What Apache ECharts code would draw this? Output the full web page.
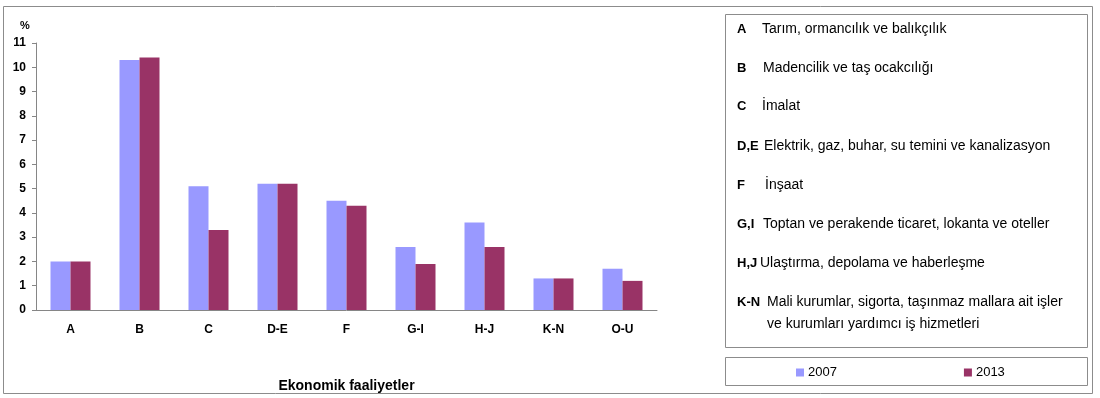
<!DOCTYPE html>
<html>
<head>
<meta charset="utf-8">
<script src="https://cdn.jsdelivr.net/npm/echarts@6/dist/echarts.min.js"></script>
<style>
  html, body { margin: 0; padding: 0; background: #fff; }
  #chart { width: 1100px; height: 398px; }
</style>
</head>
<body>
<div id="chart"></div>
<script>
// kategoriler
var categories = ["A", "B", "C", "D-E", "F", "G-I", "H-J", "K-N", "O-U"];
var seriesNames = ["2007", "2013"];
var values2007 = [2.0, 10.3, 5.1, 5.2, 4.5, 2.6, 3.6, 1.3, 1.7];
var values2013 = [2.0, 10.4, 3.3, 5.2, 4.3, 1.9, 2.6, 1.3, 1.2];
var yTicks = { min: 0, max: 11, interval: 1 };

// sağdaki açıklama kutusu
var noteCodes = ["A", "B", "C", "D,E", "F", "G,I", "H,J", "K-N", ""];
var noteTexts = [
  "Tarım, ormancılık ve balıkçılık",
  "Madencilik ve taş ocakcılığı",
  "İmalat",
  "Elektrik, gaz, buhar, su temini ve kanalizasyon",
  "İnşaat",
  "Toptan ve perakende ticaret, lokanta ve oteller",
  "Ulaştırma, depolama ve haberleşme",
  "Mali kurumlar, sigorta, taşınmaz mallara ait işler",
  "ve kurumları yardımcı iş hizmetleri"
];
var noteY = [29, 68, 106, 146, 185, 224, 263, 302, 324];
var noteDescX = [762, 763, 762, 764, 765, 763, 760, 767, 767];

var FONT = "Liberation Sans, Arial, sans-serif";

var graphics = [
  // dış çerçeve
  { type: "rect", shape: { x: 3.5, y: 6.5, width: 1089, height: 387 },
    style: { fill: "none", stroke: "#8c8c8c", lineWidth: 1 }, silent: true },
  // açıklama kutusu
  { type: "rect", shape: { x: 725.5, y: 14.5, width: 362, height: 333 },
    style: { fill: "none", stroke: "#8c8c8c", lineWidth: 1 }, silent: true },
  // lejant kutusu
  { type: "rect", shape: { x: 725.5, y: 357.5, width: 362, height: 28 },
    style: { fill: "none", stroke: "#8c8c8c", lineWidth: 1 }, silent: true },
  { type: "text", left: 20, top: 20,
    style: { text: "%", font: "bold 11px " + FONT, fill: "#000" } }
];

for (var i = 0; i < noteTexts.length; i++) {
  if (noteCodes[i]) {
    graphics.push({ type: "text", x: 737, y: noteY[i],
      style: { text: noteCodes[i], font: "bold 13px " + FONT, fill: "#000", verticalAlign: "middle" } });
  }
  graphics.push({ type: "text", x: noteDescX[i], y: noteY[i],
    style: { text: noteTexts[i], font: "14px " + FONT, fill: "#000", verticalAlign: "middle" } });
}

var chart = echarts.init(document.getElementById("chart"));

var option = {
  backgroundColor: "#fff",
  animation: false,
  color: ["#9999ff", "#993366"],
  textStyle: { fontFamily: FONT },
  grid: { left: 36, right: 443, top: 43, bottom: 88, containLabel: false },
  legend: {
    data: seriesNames,
    left: 796,
    top: 366,
    itemWidth: 8,
    itemHeight: 8,
    itemGap: 127,
    icon: "rect",
    padding: 0,
    textStyle: { fontSize: 13, color: "#000", fontFamily: FONT, padding: [0, 0, 0, -1] }
  },
  xAxis: {
    type: "category",
    data: categories,
    name: "Ekonomik faaliyetler",
    nameLocation: "middle",
    nameGap: 69,
    nameTextStyle: { fontWeight: "bold", fontSize: 14, color: "#000" },
    axisLine: { lineStyle: { color: "#868686", width: 1 } },
    axisTick: { show: false },
    axisLabel: { fontWeight: "bold", fontSize: 12, color: "#000", margin: 14 },
    splitLine: { show: false }
  },
  yAxis: {
    type: "value",
    min: yTicks.min,
    max: yTicks.max,
    interval: yTicks.interval,
    axisLine: { show: true, lineStyle: { color: "#868686", width: 1 } },
    axisTick: { show: true, length: 4, lineStyle: { color: "#868686" } },
    axisLabel: { fontWeight: "bold", fontSize: 12, color: "#000", margin: 10 },
    splitLine: { show: false }
  },
  series: [
    { name: seriesNames[0], type: "bar", data: values2007, barWidth: 20, barGap: "0%" },
    { name: seriesNames[1], type: "bar", data: values2013, barWidth: 20, barGap: "0%" }
  ],
  graphic: graphics
};

chart.setOption(option);
</script>
</body>
</html>
